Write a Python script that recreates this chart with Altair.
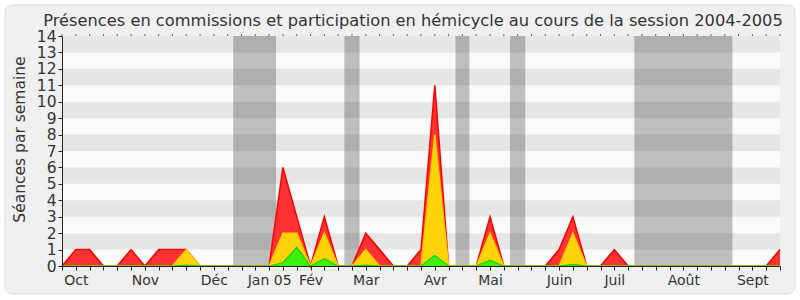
import altair as alt
import pandas as pd

# ---- data (weekly points, session 2004-2005) ----
weeks = list(range(53))
total = [0, 1, 1, 0, 0, 1, 0, 1, 1, 1, 0, 0, 0, 0, 0, 0, 6, 3, 0, 3,
         0, 0, 2, 1, 0, 0, 1, 11, 0, 0, 0, 3, 0, 0, 0, 0, 1, 3, 0, 0,
         1, 0, 0, 0, 0, 0, 0, 0, 0, 0, 0, 0, 1]
hemicycle = [0, 0, 0, 0, 0, 0, 0, 0, 0, 1, 0, 0, 0, 0, 0, 0, 2, 2, 0, 2,
             0, 0, 1, 0, 0, 0, 0, 8, 0, 0, 0, 2, 0, 0, 0, 0, 0, 2, 0, 0,
             0, 0, 0, 0, 0, 0, 0, 0, 0, 0, 0, 0, 0]
interventions = [0, 0, 0, 0, 0, 0, 0, 0, 0, 0.05, 0, 0, 0, 0, 0, 0, 0.2, 1.15, 0, 0.45,
                 0, 0, 0.05, 0, 0, 0, 0, 0.65, 0, 0, 0, 0.35, 0, 0, 0, 0, 0, 0.1, 0, 0,
                 0, 0, 0, 0, 0, 0, 0, 0, 0, 0, 0, 0, 0]

vac_start = [12.4, 20.45, 28.5, 32.45, 41.45]
vac_end = [15.5, 21.55, 29.5, 33.55, 48.55]

band_lo = [1, 3, 5, 7, 9, 11, 13]

month_pos = [1, 6, 11, 15, 18, 22, 27, 31, 36, 40, 45, 50]
month_lbl = ["Oct", "Nov", "Déc", "Jan 05", "Fév", "Mar", "Avr", "Mai",
             "Juin", "Juil", "Août", "Sept"]

TITLE = "Présences en commissions et participation en hémicycle au cours de la session 2004-2005"
FONT = "DejaVu Sans"
W, H = 718, 230

df = pd.DataFrame({"week": weeks, "total": total, "hemi": hemicycle, "inter": interventions})
vac = pd.DataFrame({"s": vac_start, "e": vac_end})
bands = pd.DataFrame({"lo": band_lo, "hi": [b + 1 for b in band_lo]})

expr = "''"
for p, l in reversed(list(zip(month_pos, month_lbl))):
    expr = f"datum.value == {p} ? '{l}' : ({expr})"

xscale = alt.Scale(domain=[0, 52], nice=False, zero=False)
yscale = alt.Scale(domain=[0, 14], nice=False)

xaxis = alt.Axis(values=weeks, labelExpr=expr, labelOverlap=False, labelBound=False,
                 labelFontSize=14, labelColor="#333", labelFont=FONT, labelPadding=3,
                 tickSize=4, tickColor="#222", domainColor="#222", grid=False, title=None,
                 labelFlush=False, zindex=2)
yaxis = alt.Axis(values=list(range(15)), labelFontSize=15.5, labelColor="#333", labelFont=FONT,
                 labelOverlap=False, labelBound=False, labelFlush=False,
                 tickSize=4, tickColor="#222", domainColor="#222", grid=False,
                 title="Séances par semaine", titleFont=FONT, titleFontSize=15.5,
                 titleFontWeight="normal", titleColor="#333", labelPadding=2, titlePadding=9,
                 titleY=103, zindex=2)

one = pd.DataFrame({"a": [0]})

frame = alt.Chart(one).mark_rect(
    fill="#f0f0f0", stroke="#dcdcdc", strokeWidth=1, cornerRadius=8
).encode(x=alt.value(-57), x2=alt.value(733), y=alt.value(-31), y2=alt.value(258))

plot_bg = alt.Chart(one).mark_rect(color="#fafafa").encode(
    x=alt.datum(0, scale=xscale, axis=xaxis), x2=alt.datum(52),
    y=alt.datum(0, scale=yscale, axis=yaxis), y2=alt.datum(14))

title_txt = alt.Chart(one).mark_text(
    font=FONT, fontSize=16.25, color="#333", align="center", baseline="alphabetic"
).encode(x=alt.value(351), y=alt.value(-10), text=alt.value(TITLE))

vac_layer = alt.Chart(vac).mark_rect(color="#bebebe").encode(
    x=alt.X("s:Q", scale=xscale, axis=xaxis),
    x2="e:Q",
    y=alt.datum(0, scale=yscale, axis=yaxis),
    y2=alt.datum(14),
)

band_layer = alt.Chart(bands).mark_rect(color="#000000", opacity=0.08).encode(
    x=alt.datum(0, scale=xscale, axis=xaxis),
    x2=alt.datum(52),
    y=alt.Y("lo:Q", scale=yscale, axis=yaxis),
    y2="hi:Q",
)

red = alt.Chart(df).mark_area(color="#ff3333", opacity=1,
                              line={"color": "#ff0000", "strokeWidth": 1.5}).encode(
    x=alt.X("week:Q", scale=xscale, axis=xaxis),
    y=alt.Y("total:Q", scale=yscale, axis=yaxis))
yel = alt.Chart(df).mark_area(color="#ffd30a", opacity=1,
                              line={"color": "#ffcc00", "strokeWidth": 1.5}).encode(
    x=alt.X("week:Q", scale=xscale, axis=xaxis),
    y=alt.Y("hemi:Q", scale=yscale, axis=yaxis))
grn = alt.Chart(df).mark_area(color="#3ef00e", opacity=1,
                              line={"color": "#22cc00", "strokeWidth": 1.2}).encode(
    x=alt.X("week:Q", scale=xscale, axis=xaxis),
    y=alt.Y("inter:Q", scale=yscale, axis=yaxis))

top_ticks = alt.Chart(df).mark_tick(color="#222", thickness=1, size=2, orient="vertical").encode(
    x=alt.X("week:Q", scale=xscale, axis=xaxis), y=alt.value(-1))

chart = alt.layer(frame, plot_bg, title_txt, vac_layer, band_layer, red, yel, grn, top_ticks).properties(
    width=W, height=H,
    autosize=alt.AutoSizeParams(type="none"),
    padding={"left": 62, "top": 36, "right": 20, "bottom": 34},
    background="white",
).configure_view(fill="#fafafa", stroke=None)

chart.save("out.html", embed_options={"renderer": "svg", "actions": False})
